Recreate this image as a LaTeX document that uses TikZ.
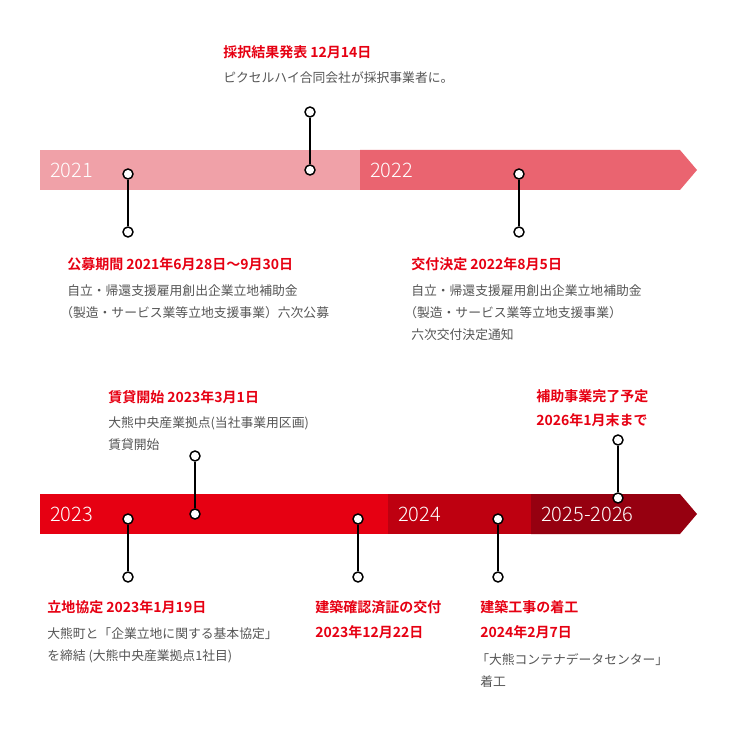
\documentclass[tikz,border=0pt]{standalone}
\usepackage{fontspec}
\setmainfont{Noto Sans CJK JP}
\newfontfamily\cjkb{Noto Sans CJK JP Bold}
\newfontfamily\cjkl{Noto Sans CJK JP Light}
\definecolor{cpink}{HTML}{F0A1A8}
\definecolor{cpink2}{HTML}{EA6470}
\definecolor{cred}{HTML}{E60012}
\definecolor{cred2}{HTML}{BE0010}
\definecolor{cred3}{HTML}{960010}
\definecolor{ctitle}{HTML}{E60012}
\definecolor{cbody}{HTML}{555555}
\begin{document}
\begin{tikzpicture}[x=0.75pt,y=-0.75pt,
  ttl/.style={anchor=west,inner sep=0,text=ctitle,font=\cjkb\fontsize{10.5}{12}\selectfont},
  bdy/.style={anchor=west,inner sep=0,text=cbody,font=\fontsize{9.6}{12}\selectfont},
  yr/.style={anchor=west,inner sep=0,text=white,font=\cjkl\fontsize{15}{18}\selectfont},
  pin/.style={circle,draw=black,fill=white,line width=1.1pt,minimum size=7.5pt,inner sep=0},
  stick/.style={line width=1.3pt,black}]
\useasboundingbox (0,0) rectangle (740,731);
% top bar
\fill[cpink] (40,150) rectangle (360,190);
\fill[cpink2] (360,150) -- (680,150) -- (697,170) -- (680,190) -- (360,190) -- cycle;
\node[yr] (y21) at (50,170) {2021};
\node[yr] (y22) at (370,170) {2022};
% bottom bar
\fill[cred] (40,494) rectangle (388,534);
\fill[cred2] (388,494) rectangle (531,534);
\fill[cred3] (531,494) -- (680,494) -- (697,514) -- (680,534) -- (531,534) -- cycle;
\node[yr] (y23) at (50,514) {2023};
\node[yr] (y24) at (398,514) {2024};
\node[yr] (y25) at (541,514) {2025-2026};
% pins
\foreach \n/\x/\a/\b in {p1/310/112/170,p2/128/174/232,p3/519/174/232,p4/195/456/514,p5/128/519/577,p6/358/519/577,p7/498/519/577,p8/618/440/498}{
  \node[pin] (\n a) at (\x,\a) {};
  \node[pin] (\n b) at (\x,\b) {};
  \draw[stick] (\n a) -- (\n b);
}
% texts
\node[ttl] (t1) at (223,52) {採択結果発表 12月14日};
\node[bdy] (b1) at (223,78) {ピクセルハイ合同会社が採択事業者に。};
\node[ttl] (t2) at (67,264) {公募期間 2021年6月28日～9月30日};
\node[bdy] (b2a) at (67,291) {自立・帰還支援雇用創出企業立地補助金};
\node[bdy] (b2b) at (60,313) {（製造・サービス業等立地支援事業）六次公募};
\node[ttl] (t3) at (411,264) {交付決定 2022年8月5日};
\node[bdy] (b3a) at (411,291) {自立・帰還支援雇用創出企業立地補助金};
\node[bdy] (b3b) at (404,313) {（製造・サービス業等立地支援事業）};
\node[bdy] (b3c) at (411,335) {六次交付決定通知};
\node[ttl] (t4) at (108,397) {賃貸開始 2023年3月1日};
\node[bdy] (b4a) at (108,423) {大熊中央産業拠点(当社事業用区画)};
\node[bdy] (b4b) at (108,445) {賃貸開始};
\node[ttl] (t5) at (536,396) {補助事業完了予定};
\node[ttl] (t5b) at (536,420) {2026年1月末まで};
\node[ttl] (t6) at (47,607) {立地協定 2023年1月19日};
\node[bdy] (b6a) at (47,634) {大熊町と「企業立地に関する基本協定」};
\node[bdy] (b6b) at (47,656) {を締結 (大熊中央産業拠点1社目)};
\node[ttl] (t7) at (315,607) {建築確認済証の交付};
\node[ttl] (t7b) at (315,632) {2023年12月22日};
\node[ttl] (t8) at (480,607) {建築工事の着工};
\node[ttl] (t8b) at (480,632) {2024年2月7日};
\node[bdy] (b8a) at (476,660) {「大熊コンテナデータセンター」};
\node[bdy] (b8b) at (480,682) {着工};
\end{tikzpicture}
\end{document}
